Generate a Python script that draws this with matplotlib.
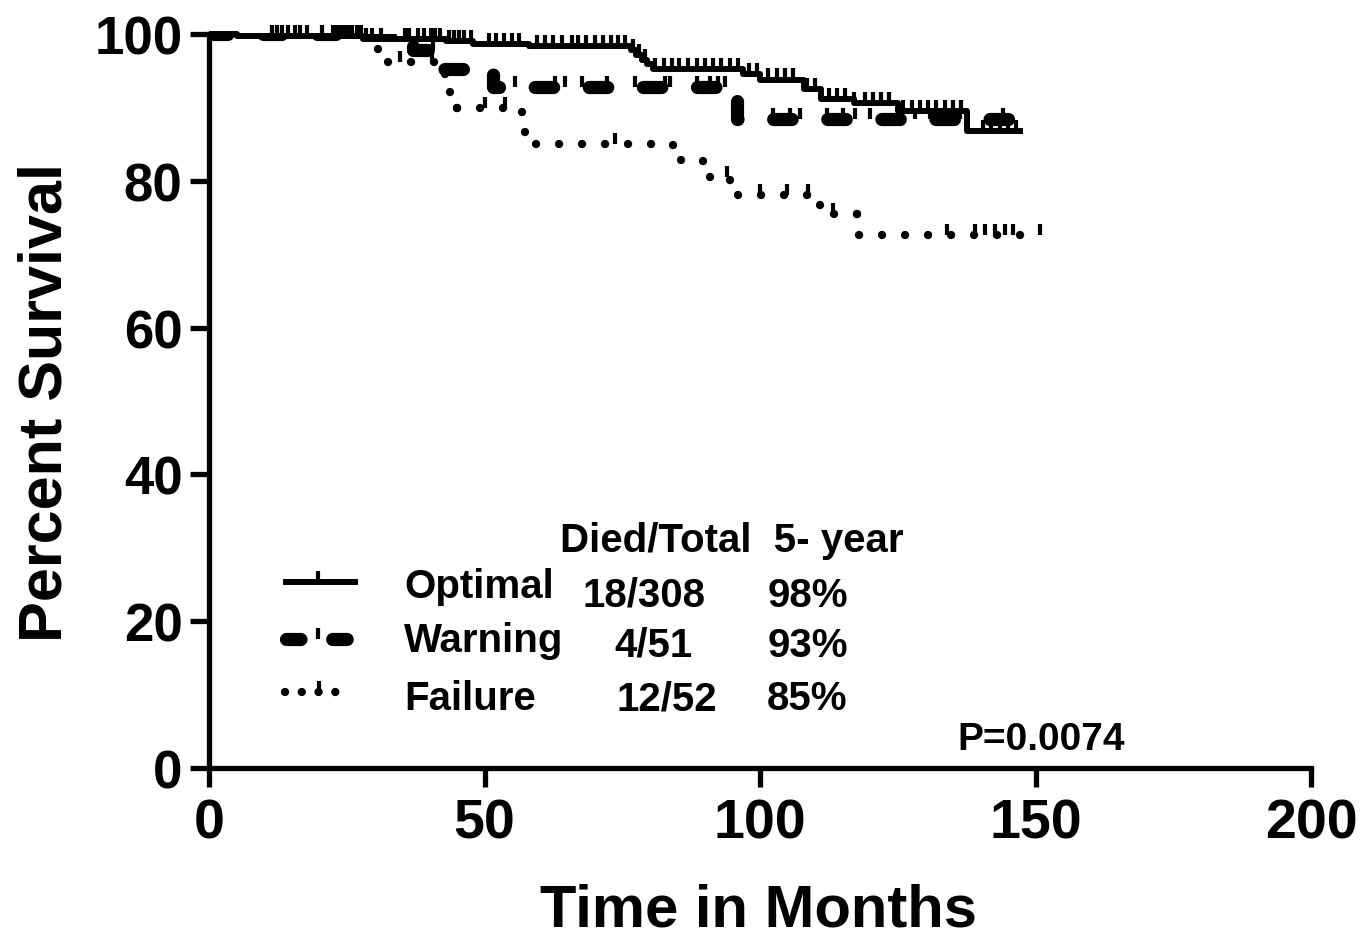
import matplotlib
matplotlib.use('Agg')
import matplotlib.pyplot as plt
import numpy as np

plt.rcParams['font.family'] = ['Liberation Sans', 'DejaVu Sans']
plt.rcParams['font.weight'] = 'bold'

# ---------------- data ----------------
x_ticks = [0, 50, 100, 150, 200]
y_ticks = [0, 20, 40, 60, 80, 100]

# Kaplan-Meier step curves (time in months, percent survival)
opt_t = [0, 5, 28, 43, 48, 58, 76.5, 77.5, 78.5, 79.5, 80.5, 97, 100, 108, 111, 117, 125, 137.6, 147.7]
opt_s = [100, 99.7, 99.3, 99.0, 98.6, 98.3, 97.8, 97.2, 96.5, 95.9, 95.2, 94.5, 93.8, 92.5, 91.2, 90.6, 89.5, 86.8, 86.8]

warn_t = [0, 37.0, 42.5, 51.5, 95.8, 146.0]
warn_s = [100, 97.8, 95.2, 92.8, 88.4, 88.4]

fail_t = [0, 29.8, 30.7, 42.8, 43.8, 45.0, 56.8, 57.4, 84.3, 89.7, 94.6, 110.9, 117.6, 150.8]
fail_s = [100, 98.1, 96.2, 94.1, 92.0, 89.9, 87.5, 85.0, 82.8, 80.5, 78.0, 75.5, 72.6, 72.6]

# censored observations (months)
opt_censor = [11.4, 12.3, 13.2, 14.3, 15.6, 16.5, 17.8, 20.5, 22.5, 23.3, 24.0, 24.6, 25.3,
              26.0, 26.8, 27.5, 28.5, 29.5, 31.2, 35.6, 36.3, 38.0, 39.0, 40.2, 41.0, 42.0,
              43.5, 44.5, 45.3, 46.2, 47.5, 50.8, 52.0, 53.5, 55.0, 56.2, 59.5, 61.0, 62.5,
              64.0, 65.8, 67.0, 68.5, 70.0, 71.5, 73.0, 74.2, 75.5, 77.0, 78.0, 79.2, 81.0,
              82.5, 84.0, 85.3, 87.0, 88.5, 90.0, 91.5, 93.0, 94.5, 96.0, 98.0, 99.5, 101.5,
              103.0, 104.5, 106.0, 108.5, 110.0, 112.5, 114.0, 115.5, 117.0, 119.0, 120.5,
              122.0, 123.5, 126.0, 127.5, 129.0, 130.5, 132.0, 133.5, 135.0, 136.5, 140.5,
              142.0, 143.5, 145.0, 146.5]
warn_censor = [40.7, 55.5, 62.8, 64.6, 67.7, 72.2, 77.3, 82.8, 83.7, 88.6, 90.9, 92.3, 93.6,
               102.4, 105.4, 107.3, 112.2, 115.1, 117.2, 120.0, 125.4, 128.1, 130.9, 133.6,
               136.3, 144.1]
fail_censor = [34.7, 40.5, 50.1, 53.7, 73.7, 94.0, 100.0, 104.9, 108.7, 113.2, 133.9, 139.0,
               140.8, 142.6, 144.5, 145.9, 150.8]

groups = ['Optimal', 'Warning', 'Failure']
died_total = ['18/308', '4/51', '12/52']
five_year = ['98%', '93%', '85%']
p_value = 'P=0.0074'

# ---------------- figure ----------------
fig = plt.figure(figsize=(13.61, 9.37), dpi=100)
ax = fig.add_axes([209/1361, 1-769/937, (1311-209)/1361, (769-35)/937])
ax.set_xlim(0, 200)
ax.set_ylim(0, 100)

def surv_at(t_arr, s_arr, tc):
    idx = np.searchsorted(np.asarray(t_arr), np.asarray(tc), side='right') - 1
    return np.asarray(s_arr)[idx]

LW_OPT = 4.3
LW_WARN = 9.5
LW_FAIL = 6.0
LW_TICK = 3.0

# Warning (thick dashed)
warn_style = (0, (1.4, 2.7))
ax.plot(warn_t, warn_s, drawstyle='steps-post', color='black', lw=LW_WARN,
        linestyle=warn_style, dash_capstyle='round', solid_capstyle='round', zorder=2)
# Failure (dotted)
fail_style = (0, (0.01, 2.75))
ax.plot(fail_t, fail_s, drawstyle='steps-post', color='black', lw=LW_FAIL,
        linestyle=fail_style, dash_capstyle='round', zorder=2)
# Optimal (solid)
ax.plot(opt_t, opt_s, drawstyle='steps-post', color='black', lw=LW_OPT, zorder=3,
        clip_on=False, solid_capstyle='butt')

# censor ticks
tick_h = 1.5
for tc, tt, ss, z in [(opt_censor, opt_t, opt_s, 3), (warn_censor, warn_t, warn_s, 2),
                      (fail_censor, fail_t, fail_s, 2)]:
    sv = surv_at(tt, ss, tc)
    ax.vlines(tc, sv, sv + tick_h, color='black', lw=LW_TICK, zorder=z, clip_on=False)

# legend text
fs_leg = 29
ax.text(63.7, 29.6, 'Died/Total  5- year', fontsize=fs_leg, fontweight='bold', ha='left', va='baseline')
row_y_name = [23.3, 15.9, 8.0]
row_y_vals = [22.1, 15.3, 8.0]
name_x = 35.4
dt_x = [67.7, 73.5, 74.0]
fy_x = 101.3
for i in range(3):
    ax.text(name_x, row_y_name[i], groups[i], fontsize=fs_leg, fontweight='bold', ha='left', va='baseline')
    ax.text(dt_x[i], row_y_vals[i], died_total[i], fontsize=fs_leg, fontweight='bold', ha='left', va='baseline')
    ax.text(fy_x, row_y_vals[i], five_year[i], fontsize=fs_leg, fontweight='bold', ha='left', va='baseline')
ax.text(135.9, 2.6, p_value, fontsize=28, fontweight='bold', ha='left', va='baseline')

# legend samples
ax.plot([13.4, 27.0], [25.3, 25.3], color='black', lw=LW_OPT, solid_capstyle='butt')
ax.vlines([19.8], 25.3, 25.3 + tick_h, color='black', lw=LW_TICK)
ax.plot([14.0, 26.6], [17.6, 17.6], color='black', lw=LW_WARN, linestyle=(0.0, (1.1, 2.4)),
        dash_capstyle='round')
ax.vlines([19.8], 17.6, 17.6 + tick_h, color='black', lw=LW_TICK)
ax.plot([13.8, 25.8], [10.4, 10.4], color='black', lw=LW_FAIL, linestyle=(0, (0.01, 2.0)),
        dash_capstyle='round')
ax.vlines([20.0], 10.4, 10.4 + tick_h, color='black', lw=LW_TICK)

# axes styling
for side in ['top', 'right']:
    ax.spines[side].set_visible(False)
for side in ['left', 'bottom']:
    ax.spines[side].set_linewidth(3.8)
    ax.spines[side].set_capstyle('projecting')
ax.set_xticks(x_ticks)
ax.set_yticks(y_ticks)
ax.tick_params(axis='both', direction='out', length=14, width=3.8, color='black')
ax.tick_params(axis='x', labelsize=40, pad=7)
ax.tick_params(axis='y', labelsize=38, pad=5)
for lab in ax.get_xticklabels() + ax.get_yticklabels():
    lab.set_fontweight('bold')

fig.text(759/1361, 1-927/937, 'Time in Months', fontsize=43, fontweight='bold',
         ha='center', va='baseline')
fig.text(62/1361, 1-402/937, 'Percent Survival', fontsize=44, fontweight='bold',
         ha='center', va='baseline', rotation=90, rotation_mode='anchor')

fig.savefig('out.png', dpi=100)
